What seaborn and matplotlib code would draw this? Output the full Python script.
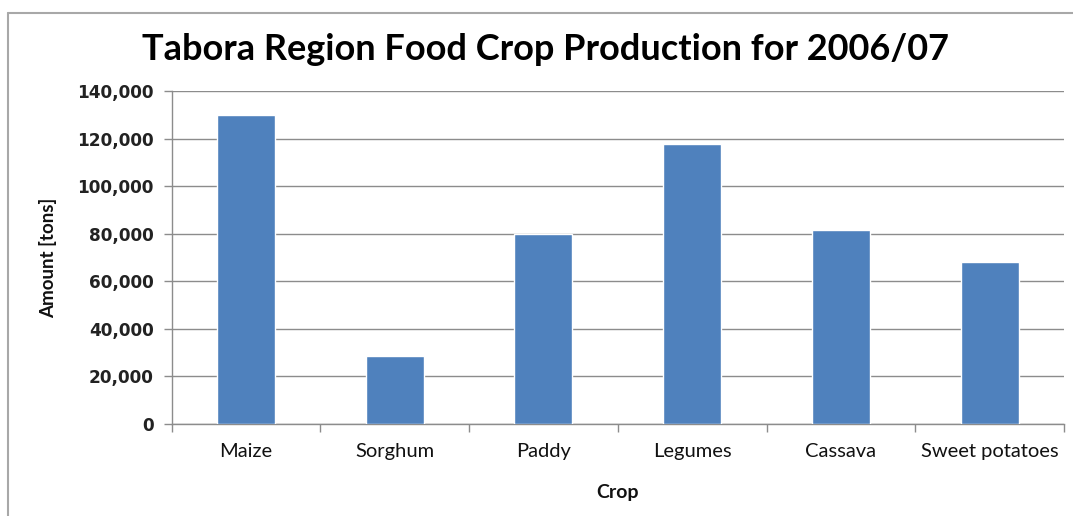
import matplotlib
matplotlib.use("Agg")
import matplotlib.pyplot as plt
import seaborn as sns
import pandas as pd
from matplotlib.ticker import FuncFormatter, FixedLocator
from matplotlib.lines import Line2D

crops = ["Maize", "Sorghum", "Paddy", "Legumes", "Cassava", "Sweet potatoes"]
amounts = [130000, 28600, 80000, 117700, 81600, 68300]
y_ticks = [0, 20000, 40000, 60000, 80000, 100000, 120000, 140000]

title = "Tabora Region Food Crop Production for 2006/07"
xlabel = "Crop"
ylabel = "Amount [tons]"

sns.set_theme(style="white")
plt.rcParams["font.family"] = ["Lato", "DejaVu Sans"]

df = pd.DataFrame({"Crop": crops, "Amount": amounts})

fig = plt.figure(figsize=(10.73, 5.16), dpi=100)
ax = fig.add_axes([0.160, 0.1783, 0.8316, 0.6453])

sns.barplot(data=df, x="Crop", y="Amount", color="#4F81BD", saturation=1,
            width=0.39, ax=ax, zorder=3)

ax.set_ylim(0, 140000)
ax.set_xlim(-0.5, len(crops) - 0.5)
ax.yaxis.set_major_locator(FixedLocator(y_ticks))
ax.yaxis.set_major_formatter(FuncFormatter(lambda v, p: f"{int(v):,}"))
ax.grid(axis="y", color="#8c8c8c", linewidth=1.0, zorder=0)
ax.set_axisbelow(True)

for s in ["top", "right"]:
    ax.spines[s].set_visible(False)
for s in ["left", "bottom"]:
    ax.spines[s].set_color("#8c8c8c")
    ax.spines[s].set_linewidth(1.0)

ax.tick_params(axis="y", which="major", length=6, width=1, color="#8c8c8c",
               direction="out", left=True, pad=7)
for lbl in ax.get_yticklabels():
    lbl.set_family("DejaVu Sans")
    lbl.set_fontweight("bold")
    lbl.set_fontsize(12.2)
    lbl.set_color("#222222")

ax.set_xticks(range(len(crops)))
ax.set_xticklabels(crops, fontsize=14.5, color="#111111")
ax.tick_params(axis="x", which="major", length=0, pad=14)
ax.set_xticks([i - 0.5 for i in range(len(crops) + 1)], minor=True)
ax.tick_params(axis="x", which="minor", length=6, width=1, color="#8c8c8c",
               direction="out", bottom=True)

ax.set_xlabel(xlabel, fontsize=14, fontweight="bold", color="#111111", labelpad=17)
ax.set_ylabel(ylabel, fontsize=13.5, fontweight="bold", color="#111111", labelpad=14)

fig.text(0.508, 0.905, title, ha="center", va="center", fontsize=26,
         fontweight="bold", color="#000000")

# outer chart frame (left and top edges)
fig.add_artist(Line2D([8 / 1073, 8 / 1073], [0, 1 - 13 / 516], transform=fig.transFigure,
                      color="#a8a8a8", linewidth=1.5))
fig.add_artist(Line2D([8 / 1073, 1], [1 - 13 / 516, 1 - 13 / 516], transform=fig.transFigure,
                      color="#a8a8a8", linewidth=1.5))

fig.savefig("out.png", dpi=100)
